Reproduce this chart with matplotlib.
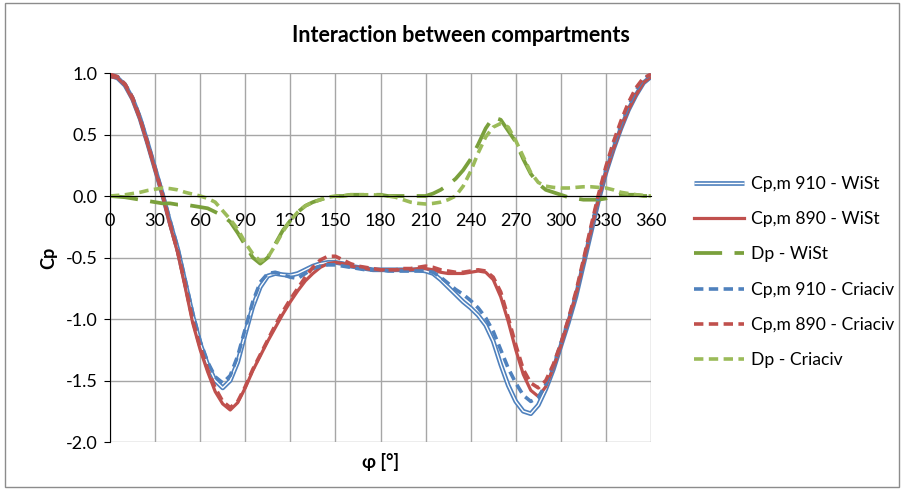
import numpy as np
import matplotlib
matplotlib.use("Agg")
import matplotlib.pyplot as plt
import matplotlib.patheffects as pe
from matplotlib.patches import Rectangle
from matplotlib.ticker import FormatStrFormatter, MultipleLocator

plt.rcParams["font.family"] = ["Lato", "DejaVu Sans"]
plt.rcParams["axes.unicode_minus"] = False

# angle in degrees, every 5 deg
PHI = list(range(0, 361, 5))

CP910_WIST = [
    0.98, 0.96, 0.90, 0.79, 0.63, 0.43, 0.22, 0.01, -0.22, -0.43,
    -0.70, -0.97, -1.20, -1.37, -1.50, -1.56, -1.50, -1.35, -1.12, -0.90,
    -0.74, -0.65, -0.63, -0.64, -0.645, -0.63, -0.60, -0.57, -0.55, -0.54,
    -0.54, -0.55, -0.57, -0.58, -0.59, -0.60, -0.60, -0.60, -0.60, -0.60,
    -0.60, -0.60, -0.61, -0.63, -0.68, -0.74, -0.80, -0.86, -0.91, -0.97,
    -1.05, -1.18, -1.37, -1.54, -1.67, -1.75, -1.77, -1.70, -1.57, -1.41,
    -1.22, -1.03, -0.82, -0.56, -0.30, -0.04, 0.19, 0.38, 0.55, 0.70,
    0.82, 0.92, 0.97,
]
CP890_WIST = [
    0.97, 0.96, 0.90, 0.78, 0.62, 0.42, 0.21, 0.00, -0.24, -0.46,
    -0.74, -1.03, -1.25, -1.43, -1.59, -1.69, -1.74, -1.68, -1.56, -1.42,
    -1.30, -1.18, -1.07, -0.96, -0.86, -0.77, -0.69, -0.63, -0.58, -0.55,
    -0.54, -0.55, -0.57, -0.58, -0.59, -0.60, -0.60, -0.60, -0.60, -0.60,
    -0.60, -0.59, -0.59, -0.60, -0.62, -0.63, -0.63, -0.63, -0.62, -0.61,
    -0.62, -0.68, -0.82, -1.02, -1.25, -1.45, -1.58, -1.63, -1.55, -1.40,
    -1.22, -1.02, -0.81, -0.55, -0.29, -0.03, 0.19, 0.38, 0.55, 0.70,
    0.82, 0.92, 0.97,
]
DP_WIST = [
    0.00, -0.005, -0.01, -0.02, -0.03, -0.04, -0.05, -0.06, -0.06, -0.07,
    -0.07, -0.08, -0.09, -0.10, -0.13, -0.16, -0.21, -0.30, -0.40, -0.50,
    -0.55, -0.50, -0.39, -0.28, -0.20, -0.13, -0.08, -0.05, -0.03, -0.01,
    0.00, 0.00, 0.01, 0.01, 0.01, 0.01, 0.01, 0.00, 0.00, 0.00,
    0.00, 0.00, 0.00, 0.02, 0.05, 0.09, 0.14, 0.21, 0.30, 0.42,
    0.55, 0.64, 0.62, 0.53, 0.44, 0.30, 0.18, 0.10, 0.05, 0.03,
    0.01, -0.01, -0.02, -0.03, -0.03, -0.03, -0.02, 0.00, 0.01, 0.01,
    0.01, 0.00, 0.00,
]
CP910_CRIACIV = [
    0.99, 0.97, 0.91, 0.80, 0.64, 0.44, 0.23, 0.02, -0.20, -0.42,
    -0.68, -0.95, -1.18, -1.35, -1.47, -1.52, -1.46, -1.30, -1.08, -0.86,
    -0.70, -0.63, -0.62, -0.64, -0.66, -0.67, -0.63, -0.59, -0.57, -0.56,
    -0.56, -0.57, -0.58, -0.59, -0.60, -0.60, -0.60, -0.61, -0.61, -0.61,
    -0.61, -0.61, -0.61, -0.62, -0.66, -0.71, -0.76, -0.80, -0.85, -0.91,
    -0.99, -1.10, -1.25, -1.40, -1.52, -1.62, -1.67, -1.64, -1.53, -1.38,
    -1.20, -1.01, -0.80, -0.54, -0.27, -0.01, 0.22, 0.41, 0.58, 0.73,
    0.86, 0.95, 0.99,
]
CP890_CRIACIV = [
    0.99, 0.97, 0.91, 0.80, 0.63, 0.43, 0.22, 0.01, -0.23, -0.45,
    -0.72, -1.01, -1.23, -1.41, -1.56, -1.67, -1.72, -1.67, -1.55, -1.41,
    -1.29, -1.17, -1.05, -0.94, -0.84, -0.75, -0.66, -0.58, -0.52, -0.49,
    -0.49, -0.52, -0.55, -0.57, -0.58, -0.59, -0.60, -0.60, -0.60, -0.59,
    -0.59, -0.58, -0.57, -0.58, -0.60, -0.61, -0.62, -0.62, -0.61, -0.60,
    -0.61, -0.66, -0.78, -0.99, -1.21, -1.41, -1.52, -1.56, -1.50, -1.37,
    -1.20, -1.00, -0.78, -0.52, -0.25, 0.01, 0.24, 0.44, 0.61, 0.76,
    0.88, 0.96, 0.99,
]
DP_CRIACIV = [
    0.00, 0.005, 0.01, 0.02, 0.03, 0.045, 0.055, 0.065, 0.06, 0.05,
    0.03, 0.015, 0.00, -0.02, -0.05, -0.12, -0.19, -0.27, -0.38, -0.47,
    -0.53, -0.50, -0.40, -0.29, -0.20, -0.13, -0.08, -0.05, -0.03, -0.01,
    0.00, 0.00, 0.01, 0.01, 0.01, 0.01, 0.005, 0.00, -0.01, -0.03,
    -0.05, -0.06, -0.065, -0.06, -0.05, -0.03, 0.00, 0.08, 0.20, 0.35,
    0.48, 0.56, 0.59, 0.56, 0.45, 0.32, 0.19, 0.11, 0.08, 0.07,
    0.065, 0.065, 0.07, 0.075, 0.075, 0.07, 0.065, 0.05, 0.03, 0.02,
    0.01, 0.005, 0.00,
]

BLUE = "#4F81BD"
RED = "#C0504D"
GREEN_DARK = "#7AA03C"
GREEN_LIGHT = "#9BBB59"

fig = plt.figure(figsize=(9.02, 4.9), dpi=100)
ax = fig.add_axes([110 / 902, 1 - 442 / 490, 541 / 902, 369 / 490])

# outer chart border
fig.patches.append(Rectangle((5 / 902, 3 / 490), 894 / 902, 484 / 490,
                             transform=fig.transFigure, fill=False,
                             edgecolor="#8c8c8c", lw=1))

ax.plot(PHI, CP910_WIST, color="white", lw=1.0, label="Cp,m 910 - WiSt",
        solid_capstyle="butt",
        path_effects=[pe.Stroke(linewidth=3.4, foreground=BLUE), pe.Normal()])
ax.plot(PHI, CP890_WIST, color=RED, lw=2.3, label="Cp,m 890 - WiSt")
ax.plot(PHI, DP_WIST, color=GREEN_DARK, lw=2.7, dashes=(7.5, 3.3),
        label="Dp - WiSt")
ax.plot(PHI, CP910_CRIACIV, color=BLUE, lw=2.6, dashes=(2.6, 1.5),
        label="Cp,m 910 - Criaciv")
ax.plot(PHI, CP890_CRIACIV, color=RED, lw=2.6, dashes=(2.6, 1.5),
        label="Cp,m 890 - Criaciv")
ax.plot(PHI, DP_CRIACIV, color=GREEN_LIGHT, lw=2.6, dashes=(2.6, 1.5),
        label="Dp - Criaciv")

ax.set_xlim(0, 360)
ax.set_ylim(-2.0, 1.0)
ax.xaxis.set_major_locator(MultipleLocator(30))
ax.yaxis.set_major_locator(MultipleLocator(0.5))
ax.yaxis.set_major_formatter(FormatStrFormatter("%.1f"))
ax.grid(True, color="#a6a6a6", lw=1)
ax.set_axisbelow(True)

ax.spines["bottom"].set_position(("data", 0))
ax.spines["bottom"].set_color("black")
ax.spines["left"].set_color("black")
ax.spines["top"].set_visible(False)
ax.spines["right"].set_visible(False)
ax.tick_params(axis="x", length=0, pad=12, labelsize=13)
ax.tick_params(axis="y", length=4, direction="out", pad=5, labelsize=13)

ax.set_ylabel("Cp", fontsize=13, fontweight="bold", labelpad=6)
ax.set_xlabel("φ [°]", fontsize=13, fontweight="bold")
ax.xaxis.set_label_coords(0.5, -0.03)

fig.text(461 / 902, 1 - 35 / 490, "Interaction between compartments",
         ha="center", va="center", fontsize=15.5, fontweight="bold")

ax.legend(loc="upper left", bbox_to_anchor=(694 / 902, 1 - 176 / 490),
          bbox_transform=fig.transFigure, frameon=False, fontsize=12.6,
          handlelength=2.85, handletextpad=0.4, labelspacing=1.1,
          borderpad=0, borderaxespad=0)

fig.savefig("out.png", dpi=100)
